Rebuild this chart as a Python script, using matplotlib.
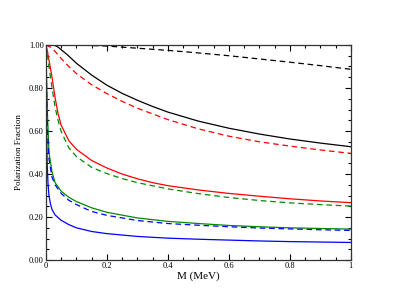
import matplotlib
matplotlib.use("Agg")
import matplotlib.pyplot as plt
from matplotlib.ticker import MultipleLocator, FormatStrFormatter

# Data
x_black_dash = [0.0, 0.1, 0.2, 0.3, 0.4, 0.5, 0.6, 0.7, 0.8, 0.9, 1.0]
y_black_dash = [1.0, 1.0, 0.995, 0.985, 0.975, 0.963, 0.950, 0.935, 0.920, 0.904, 0.887]

x_black = [0.0, 0.02, 0.03, 0.04, 0.05, 0.07, 0.1, 0.15, 0.2, 0.25, 0.3, 0.35, 0.4, 0.5, 0.6, 0.7, 0.8, 0.9, 1.0]
y_black = [1.0, 1.0, 0.997, 0.99, 0.978, 0.955, 0.915, 0.86, 0.813, 0.775, 0.743, 0.714, 0.688, 0.646, 0.613, 0.586, 0.563, 0.544, 0.527]

x_red_dash = [0.0, 0.015, 0.03, 0.05, 0.075, 0.1, 0.15, 0.2, 0.25, 0.3, 0.4, 0.5, 0.6, 0.7, 0.8, 0.9, 1.0]
y_red_dash = [1.0, 0.99, 0.97, 0.937, 0.9, 0.867, 0.815, 0.774, 0.738, 0.706, 0.653, 0.61, 0.576, 0.55, 0.53, 0.512, 0.496]

x_red = [0.0, 0.005, 0.01, 0.02, 0.03, 0.04, 0.05, 0.075, 0.1, 0.15, 0.2, 0.25, 0.3, 0.35, 0.4, 0.5, 0.6, 0.7, 0.8, 0.9, 1.0]
y_red = [1.0, 0.97, 0.93, 0.85, 0.755, 0.68, 0.627, 0.555, 0.515, 0.463, 0.428, 0.4, 0.378, 0.36, 0.346, 0.326, 0.31, 0.297, 0.285, 0.275, 0.267]

x_green_dash = [0.0, 0.005, 0.01, 0.02, 0.03, 0.04, 0.05, 0.075, 0.1, 0.15, 0.2, 0.25, 0.3, 0.4, 0.5, 0.6, 0.7, 0.8, 0.9, 1.0]
y_green_dash = [1.0, 0.95, 0.9, 0.8, 0.712, 0.648, 0.598, 0.522, 0.481, 0.431, 0.402, 0.379, 0.36, 0.331, 0.309, 0.291, 0.277, 0.266, 0.258, 0.251]

x_green = [0.0, 0.002, 0.005, 0.01, 0.02, 0.03, 0.05, 0.075, 0.1, 0.15, 0.2, 0.3, 0.4, 0.5, 0.6, 0.7, 0.8, 0.9, 1.0]
y_green = [1.0, 0.85, 0.68, 0.5, 0.41, 0.36, 0.32, 0.292, 0.272, 0.243, 0.222, 0.196, 0.18, 0.17, 0.161, 0.155, 0.15, 0.147, 0.144]

x_blue_dash = [0.0, 0.002, 0.005, 0.01, 0.02, 0.03, 0.05, 0.075, 0.1, 0.15, 0.2, 0.3, 0.4, 0.5, 0.6, 0.7, 0.8, 0.9, 1.0]
y_blue_dash = [1.0, 0.8, 0.6, 0.47, 0.385, 0.35, 0.31, 0.278, 0.258, 0.226, 0.208, 0.184, 0.17, 0.162, 0.155, 0.149, 0.145, 0.141, 0.138]

x_blue = [0.0, 0.001, 0.002, 0.004, 0.007, 0.01, 0.015, 0.02, 0.03, 0.05, 0.075, 0.1, 0.15, 0.2, 0.3, 0.4, 0.5, 0.6, 0.7, 0.8, 0.9, 1.0]
y_blue = [1.0, 0.78, 0.62, 0.45, 0.35, 0.3, 0.26, 0.235, 0.21, 0.185, 0.165, 0.15, 0.133, 0.123, 0.11, 0.102, 0.097, 0.093, 0.089, 0.086, 0.084, 0.082]

x_major = [0, 0.2, 0.4, 0.6, 0.8, 1.0]
x_labels = ["0", "0.2", "0.4", "0.6", "0.8", "1"]

plt.rcParams['font.family'] = ['Liberation Serif', 'DejaVu Serif']

fig = plt.figure(figsize=(3.96, 3.06), dpi=100)
ax = fig.add_axes([0.116, 0.150, 0.770, 0.703])

lw = 0.9
dash = (0, (4.5, 3))
green = '#008b00'
ax.plot(x_black_dash, y_black_dash, color='black', lw=lw, linestyle=dash)
ax.plot(x_black, y_black, color='black', lw=lw)
ax.plot(x_red_dash, y_red_dash, color='red', lw=lw, linestyle=dash)
ax.plot(x_red, y_red, color='red', lw=lw)
ax.plot(x_green_dash, y_green_dash, color=green, lw=lw, linestyle=dash)
ax.plot(x_green, y_green, color=green, lw=lw)
ax.plot(x_blue_dash, y_blue_dash, color='blue', lw=lw, linestyle=dash)
ax.plot(x_blue, y_blue, color='blue', lw=lw)

ax.set_xlim(0, 1)
ax.set_ylim(0, 1)
ax.set_xticks(x_major)
ax.set_xticklabels(x_labels)
ax.xaxis.set_minor_locator(MultipleLocator(0.05))
ax.yaxis.set_major_locator(MultipleLocator(0.2))
ax.yaxis.set_major_formatter(FormatStrFormatter('%.2f'))
ax.yaxis.set_minor_locator(MultipleLocator(0.05))
ax.tick_params(which='both', direction='in', top=True, right=True, labelsize=6, pad=1.5)
ax.tick_params(which='major', length=4, width=0.8)
ax.tick_params(which='minor', length=2.2, width=0.8)
for s in ax.spines.values():
    s.set_linewidth(0.9)
    s.set_color('#333333')

ax.set_xlabel('M (MeV)', fontsize=8, labelpad=1)
ax.set_ylabel('Polarization Fraction', fontsize=6.5, labelpad=4)

fig.savefig('out.png', dpi=100)
